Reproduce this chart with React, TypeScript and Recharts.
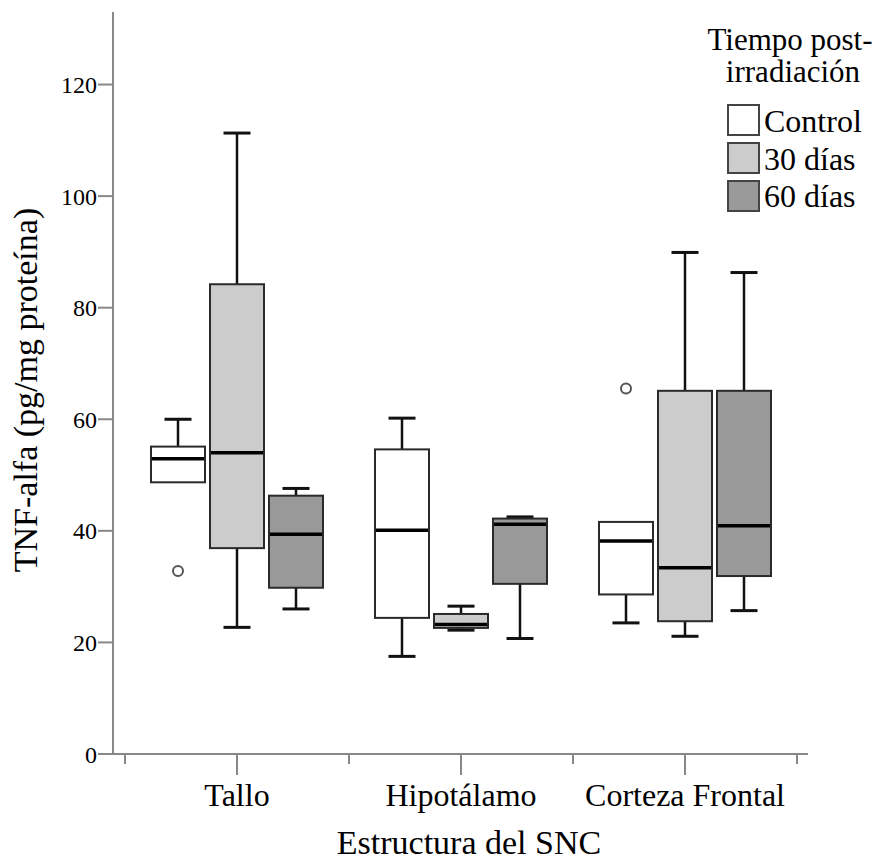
import { BarChart, Bar, XAxis, YAxis, Legend } from "recharts";

const categories = ["Tallo", "Hipotálamo", "Corteza Frontal"];
const seriesNames = ["Control", "30 días", "60 días"];
const seriesFills = ["#ffffff", "#cccccc", "#999999"];

// Control
const controlLow = [48.7, 17.5, 23.5];
const controlQ1 = [48.7, 24.4, 28.6];
const controlMedian = [52.9, 40.1, 38.2];
const controlQ3 = [55.1, 54.6, 41.6];
const controlHigh = [60.0, 60.2, 41.6];
const controlOutliers = [[32.8], [], [65.5]];

// 30 días
const d30Low = [22.7, 22.2, 21.1];
const d30Q1 = [36.9, 22.6, 23.8];
const d30Median = [54.0, 23.2, 33.4];
const d30Q3 = [84.2, 25.1, 65.1];
const d30High = [111.3, 26.5, 89.9];
const d30Outliers = [[], [], []];

// 60 días
const d60Low = [26.0, 20.7, 25.7];
const d60Q1 = [29.8, 30.5, 31.9];
const d60Median = [39.4, 41.2, 40.9];
const d60Q3 = [46.3, 42.2, 65.1];
const d60High = [47.6, 42.5, 86.3];
const d60Outliers = [[], [], []];

const yTicks = [0, 20, 40, 60, 80, 100, 120];

const series = [
  { low: controlLow, q1: controlQ1, med: controlMedian, q3: controlQ3, high: controlHigh, out: controlOutliers },
  { low: d30Low, q1: d30Q1, med: d30Median, q3: d30Q3, high: d30High, out: d30Outliers },
  { low: d60Low, q1: d60Q1, med: d60Median, q3: d60Q3, high: d60High, out: d60Outliers },
];

const data = categories.map((name, i) => {
  const row: any = { name };
  series.forEach((s, k) => {
    row["s" + k] = [s.q1[i], s.q3[i]];
    row["st" + k] = { low: s.low[i], q1: s.q1[i], med: s.med[i], q3: s.q3[i], high: s.high[i], out: s.out[i] };
  });
  return row;
});

const FONT = "Liberation Serif, Times New Roman, DejaVu Serif, serif";
const AXIS = "#888888";
const TICK_SIZE = 21;
const TICK_MARGIN = 8;

function BoxShape(props: any) {
  const { x, y, width, height, payload, statKey, fill } = props;
  const st = payload[statKey];
  const top = Math.min(y, y + height);
  const bottom = Math.max(y, y + height);
  // map a value to pixels from the bar's own q1..q3 extent
  const py = (v: number) => bottom - ((v - st.q1) / (st.q3 - st.q1)) * (bottom - top);
  const cx = x + width / 2;
  const cap = width / 4;
  return (
    <g>
      {st.high > st.q3 && (
        <g>
          <line x1={cx} x2={cx} y1={py(st.high)} y2={top} stroke="#111" strokeWidth={2.5} />
          <line x1={cx - cap} x2={cx + cap} y1={py(st.high)} y2={py(st.high)} stroke="#111" strokeWidth={3} />
        </g>
      )}
      {st.low < st.q1 && (
        <g>
          <line x1={cx} x2={cx} y1={bottom} y2={py(st.low)} stroke="#111" strokeWidth={2.5} />
          <line x1={cx - cap} x2={cx + cap} y1={py(st.low)} y2={py(st.low)} stroke="#111" strokeWidth={3} />
        </g>
      )}
      <rect x={x} y={top} width={width} height={bottom - top} fill={fill} stroke="#2a2a2a" strokeWidth={2} />
      <line x1={x + 1} x2={x + width - 1} y1={py(st.med)} y2={py(st.med)} stroke="#000" strokeWidth={3.5} />
      {st.out.map((o: number, j: number) => (
        <circle key={j} cx={cx} cy={py(o)} r={5} fill="#fff" stroke="#555" strokeWidth={2} />
      ))}
    </g>
  );
}

function CategoryTick(props: any) {
  const { x, y, payload } = props;
  const axisY = y - TICK_SIZE - TICK_MARGIN;
  const half = payload.offset || 0;
  return (
    <g>
      <line x1={x - half} x2={x - half} y1={axisY} y2={axisY + 10} stroke={AXIS} strokeWidth={2} />
      <line x1={x + half} x2={x + half} y1={axisY} y2={axisY + 10} stroke={AXIS} strokeWidth={2} />
      <text x={x} y={y} dy="0.71em" textAnchor="middle" style={{ fontFamily: FONT, fontSize: 32 }} fill="#000">
        {payload.value}
      </text>
    </g>
  );
}

function LegendBox() {
  return (
    <svg width={887} height={230} style={{ display: "block" }}>
      <text x={790} y={50} textAnchor="middle" style={{ fontFamily: FONT, fontSize: 31 }} fill="#000">
        Tiempo post-
      </text>
      <text x={793} y={82} textAnchor="middle" style={{ fontFamily: FONT, fontSize: 31 }} fill="#000">
        irradiación
      </text>
      {seriesNames.map((name, i) => (
        <g key={name}>
          <rect x={728} y={105 + i * 38} width={31} height={30} fill={seriesFills[i]} stroke="#444" strokeWidth={2} />
          <text x={764} y={132 + i * 37.5} style={{ fontFamily: FONT, fontSize: 32 }} fill="#000">
            {name}
          </text>
        </g>
      ))}
    </svg>
  );
}

export default function App() {
  return (
    <div style={{ position: "absolute", left: 0, top: 0, background: "#fff", fontFamily: FONT }}>
      <BarChart
        width={887}
        height={861}
        data={data}
        margin={{ top: 12, right: 79, bottom: 0, left: 0 }}
        barSize={54}
        barGap={5}
      >
        <XAxis
          dataKey="name"
          height={107}
          padding={{ left: 12, right: 11 }}
          axisLine={{ stroke: AXIS, strokeWidth: 2 }}
          tickLine={{ stroke: AXIS, strokeWidth: 2 }}
          tickSize={TICK_SIZE}
          tickMargin={TICK_MARGIN}
          tick={<CategoryTick />}
          interval={0}
          label={() => (
            <text x={469} y={854} textAnchor="middle" style={{ fontFamily: FONT, fontSize: 34 }} fill="#000">
              Estructura del SNC
            </text>
          )}
        />
        <YAxis
          width={113}
          domain={[0, 133]}
          ticks={yTicks}
          allowDataOverflow
          axisLine={{ stroke: AXIS, strokeWidth: 2 }}
          tickLine={{ stroke: AXIS, strokeWidth: 2 }}
          tickSize={15}
          tickMargin={1}
          tick={{ style: { fontFamily: FONT, fontSize: 24 }, fill: "#000" }}
          label={() => (
            <text
              x={37}
              y={390}
              transform="rotate(-90 37 390)"
              textAnchor="middle"
              style={{ fontFamily: FONT, fontSize: 34 }}
              fill="#000"
            >
              TNF-alfa (pg/mg proteína)
            </text>
          )}
        />
        <Legend
          layout="horizontal"
          verticalAlign="middle"
          align="center"
          content={<LegendBox />}
          wrapperStyle={{ position: "absolute", left: 0, top: 0, width: 887, height: 230 }}
        />
        {seriesNames.map((n, k) => (
          <Bar
            key={n}
            name={n}
            dataKey={"s" + k}
            fill={seriesFills[k]}
            isAnimationActive={false}
            shape={(p: any) => <BoxShape {...p} statKey={"st" + k} fill={seriesFills[k]} />}
          />
        ))}
      </BarChart>
    </div>
  );
}
